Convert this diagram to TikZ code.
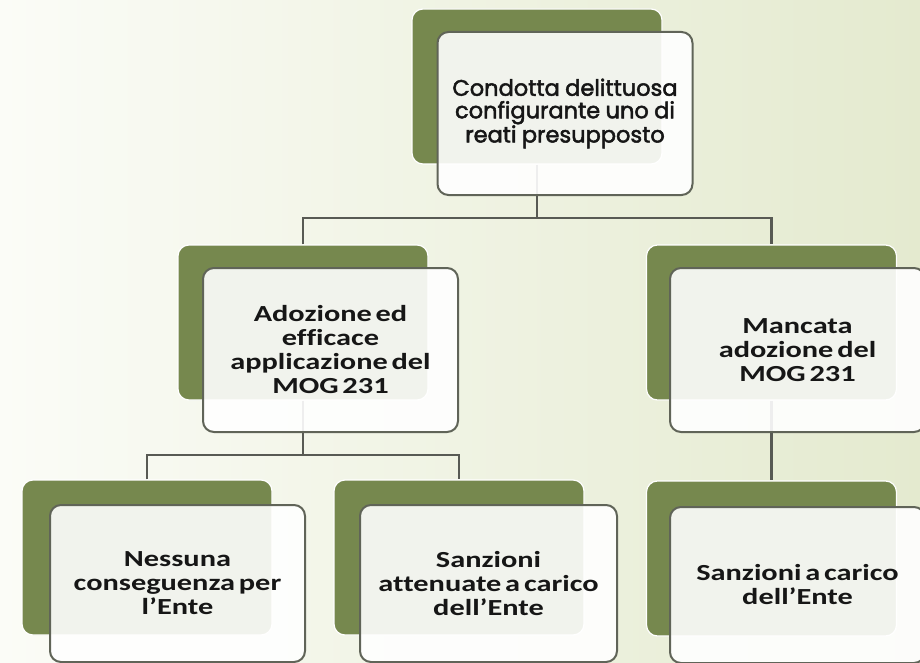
\documentclass[tikz,border=0pt]{standalone}
\usepackage{fontspec}
\setmainfont{Carlito}[FakeStretch=1.32, WordSpace=0.55, Ligatures={TeX,NoCommon}]
\newfontfamily\gothicfont{Poppins}[FakeBold=2.2, WordSpace=0.9]
\definecolor{olive}{RGB}{118,136,78}
\definecolor{bgleft}{RGB}{251,252,247}
\definecolor{bgright}{RGB}{228,234,207}
\definecolor{connc}{RGB}{88,90,84}
\definecolor{edgec}{RGB}{96,100,88}
\definecolor{txt}{RGB}{22,22,22}
\tikzset{
  backbox/.style={fill=olive, draw=white, line width=1.2pt, rounded corners=11pt,
    minimum width=250pt, minimum height=155pt, inner sep=0pt},
  frontbox/.style={fill=white, fill opacity=0.9, text opacity=1, draw=edgec, line width=2pt,
    rounded corners=11pt, minimum width=255pt, inner sep=0pt, align=center,
    text=txt, font=\bfseries\fontsize{23}{24}\selectfont},
  conn/.style={draw=connc, line width=2.6pt},
}
\begin{document}
\begin{tikzpicture}[x=1pt,y=-1pt]
\useasboundingbox (0,0) rectangle (920,663);
\shade[left color=bgleft, right color=bgright] (0,0) rectangle (920,663);
% back rectangles
\node[backbox] (topB) at (537,86.5) {};
\node[backbox] (lmB) at (303,322.5) {};
\node[backbox] (rmB) at (771.5,322.5) {};
\node[backbox] (blB) at (147,557.5) {};
\node[backbox] (bmB) at (459,557.5) {};
\node[backbox] (brB) at (771.5,558.5) {};
% connectors
\coordinate (j1) at (537,218);
\coordinate (j2) at (303,455);
\draw[conn] (topB.south) -- (j1);
\draw[conn] (lmB.north) |- (j1) -| (rmB.north);
\draw[conn] (lmB.south) -- (j2);
\draw[conn] (blB.north) |- (j2) -| (bmB.north);
\draw[conn] (rmB.south) -- (brB.north);
% front boxes
\node[frontbox, minimum height=163pt, font=\gothicfont\fontsize{22.5}{22.5}\selectfont] (top) at (565,113.5)
  {Condotta delittuosa\\configurante uno di\\reati presupposto};
\node[frontbox, minimum height=164pt] (lm) at (330.5,350)
  {Adozione ed\\efficace\\applicazione del\\MOG 231};
\node[frontbox, minimum height=164pt] (rm) at (797.5,350)
  {Mancata\\adozione del\\MOG 231};
\node[frontbox, minimum height=157pt] (bl) at (177.5,583.5)
  {Nessuna\\conseguenza per\\l{\char"0027}Ente};
\node[frontbox, minimum height=157pt, minimum width=257pt] (bm) at (488.5,583.5)
  {Sanzioni\\attenuate a carico\\dell’Ente};
\node[frontbox, minimum height=156pt] (br) at (797.5,585)
  {Sanzioni a carico\\dell’Ente};
\end{tikzpicture}
\end{document}
